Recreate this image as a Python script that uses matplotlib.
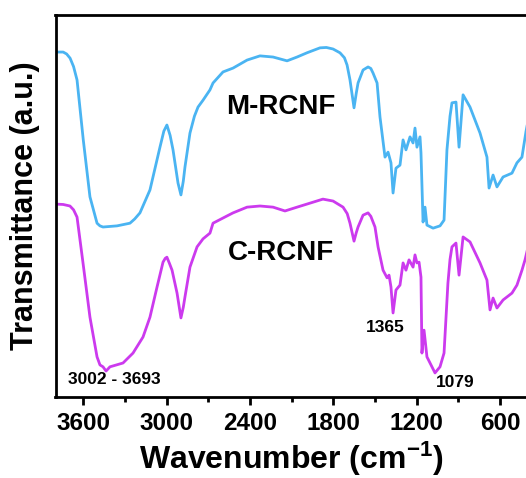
import matplotlib
matplotlib.use("Agg")
import matplotlib.pyplot as plt

plt.rcParams['font.family'] = ['Liberation Sans', 'DejaVu Sans']
plt.rcParams['mathtext.fontset'] = 'custom'
plt.rcParams['mathtext.rm'] = 'Liberation Sans:bold'
plt.rcParams['mathtext.bf'] = 'Liberation Sans:bold'
plt.rcParams['mathtext.it'] = 'Liberation Sans:bold'

# M-RCNF spectrum (wavenumber cm-1, transmittance a.u.)
m_wn = [3800, 3745, 3720, 3695, 3670, 3645, 3600, 3552, 3501, 3480, 3458, 3357,
        3264, 3230, 3192, 3120, 3048, 3020, 2998, 2975, 2954, 2918, 2897, 2880,
        2868, 2832, 2800, 2774, 2738, 2688, 2666, 2594, 2522, 2421, 2328, 2234,
        2133, 2061, 1990, 1896, 1850, 1802, 1752, 1720, 1701, 1680, 1651, 1635,
        1622, 1586, 1550, 1530, 1514, 1485, 1464, 1428, 1406, 1385, 1370, 1349,
        1320, 1298, 1277, 1248, 1226, 1212, 1198, 1176, 1169, 1154, 1140, 1126,
        1082, 1032, 1003, 982, 960, 946, 917, 895, 866, 816, 744, 694, 679, 650,
        622, 578, 514, 478, 442, 413, 400]
m_t = [90.3, 90.3, 89.8, 88.7, 86.5, 83.0, 67.3, 52.4, 45.5, 44.8, 44.5, 44.8,
       45.5, 46.6, 48.2, 54.2, 65.4, 69.6, 71.2, 68.5, 64.7, 56.0, 52.9, 56.5,
       60.2, 69.1, 73.5, 75.9, 77.7, 80.4, 82.2, 85.1, 86.1, 88.2, 89.3, 89.0,
       88.0, 89.0, 90.1, 91.4, 91.5, 91.1, 90.1, 88.8, 86.9, 83.0, 75.7, 79.5,
       82.2, 85.6, 86.4, 86.0, 84.8, 82.2, 73.3, 62.8, 64.1, 61.3, 53.4, 59.9,
       60.7, 67.3, 64.7, 68.1, 66.5, 70.4, 65.4, 68.1, 63.9, 45.8, 49.7, 45.0,
       44.2, 44.8, 46.3, 64.7, 73.5, 77.0, 77.2, 65.4, 79.1, 75.9, 69.1, 62.8,
       54.7, 58.1, 55.0, 57.6, 58.6, 61.3, 62.8, 69.5, 72.0]

# C-RCNF spectrum
c_wn = [3800, 3745, 3696, 3670, 3645, 3602, 3552, 3501, 3480, 3458, 3436, 3408,
        3314, 3242, 3170, 3120, 3069, 3026, 3010, 2998, 2980, 2961, 2925, 2897,
        2880, 2868, 2832, 2781, 2738, 2688, 2666, 2565, 2522, 2421, 2328, 2234,
        2148, 2061, 1990, 1875, 1802, 1730, 1700, 1680, 1651, 1635, 1622, 1586,
        1550, 1530, 1500, 1478, 1442, 1413, 1399, 1385, 1370, 1349, 1320, 1298,
        1277, 1255, 1226, 1212, 1198, 1183, 1169, 1162, 1147, 1126, 1090, 1068,
        1032, 1003, 975, 960, 946, 917, 895, 866, 816, 744, 694, 672, 650, 622,
        578, 514, 478, 442, 420, 400]
c_t = [50.5, 50.4, 50.0, 49.0, 47.1, 35.1, 20.9, 10.5, 8.4, 7.9, 6.8, 7.9,
       8.9, 11.5, 15.7, 20.9, 28.8, 35.3, 36.3, 36.6, 35.0, 33.2, 27.2, 20.7,
       23.5, 26.2, 34.0, 39.3, 41.4, 42.9, 45.5, 47.4, 48.2, 49.7, 50.0, 49.7,
       48.7, 49.7, 50.5, 51.8, 51.3, 49.7, 48.0, 45.5, 40.8, 43.0, 44.5, 47.6,
       48.2, 47.3, 44.5, 39.3, 33.2, 31.2, 31.9, 28.8, 22.0, 28.0, 29.3, 35.1,
       33.2, 35.9, 34.0, 37.2, 35.1, 35.3, 31.4, 11.5, 17.5, 10.5, 7.9, 6.3,
       7.9, 11.5, 29.8, 36.0, 39.3, 40.3, 31.9, 41.9, 40.6, 35.1, 30.6, 22.8,
       25.9, 23.3, 25.4, 27.2, 29.3, 33.2, 35.9, 39.0]

x_ticks = [3600, 3000, 2400, 1800, 1200, 600]
x_minor = [3300, 2700, 2100, 1500, 900]

fig = plt.figure(figsize=(5.26, 4.78), dpi=100)
ax = fig.add_axes([55.5 / 526, 81 / 478, 472.3 / 526, 382 / 478])

ax.plot(m_wn, m_t, color='#4ab4f2', lw=2.0, solid_joinstyle='round')
ax.plot(c_wn, c_t, color='#cc3aee', lw=2.0, solid_joinstyle='round')

ax.set_xlim(3800, 400)
ax.set_ylim(0, 100)
ax.set_xticks(x_ticks)
ax.set_xticks(x_minor, minor=True)
ax.set_yticks([])
for s in ax.spines.values():
    s.set_linewidth(2.0)
ax.tick_params(axis='x', which='major', direction='out', length=6, width=2,
               labelsize=17.5, pad=5)
ax.tick_params(axis='x', which='minor', direction='out', length=3.5, width=2)
for lab in ax.get_xticklabels():
    lab.set_fontweight('bold')

ax.set_xlabel(r'Wavenumber (cm$^{\mathbf{-1}}$)', fontsize=23, fontweight='bold',
              labelpad=3)
ax.set_ylabel('Transmittance (a.u.)', fontsize=22, fontweight='bold', labelpad=11)

ax.text(2177, 75.9, 'M-RCNF', fontsize=20, fontweight='bold', ha='center', va='center')
ax.text(2177, 37.7, 'C-RCNF', fontsize=20, fontweight='bold', ha='center', va='center')
ax.text(1428, 18.3, '1365', fontsize=12.5, fontweight='bold', ha='center', va='center')
ax.text(924, 3.7, '1079', fontsize=12.5, fontweight='bold', ha='center', va='center')
ax.text(3379, 4.5, '3002 - 3693', fontsize=12.5, fontweight='bold', ha='center', va='center')

fig.savefig('out.png', dpi=100)
